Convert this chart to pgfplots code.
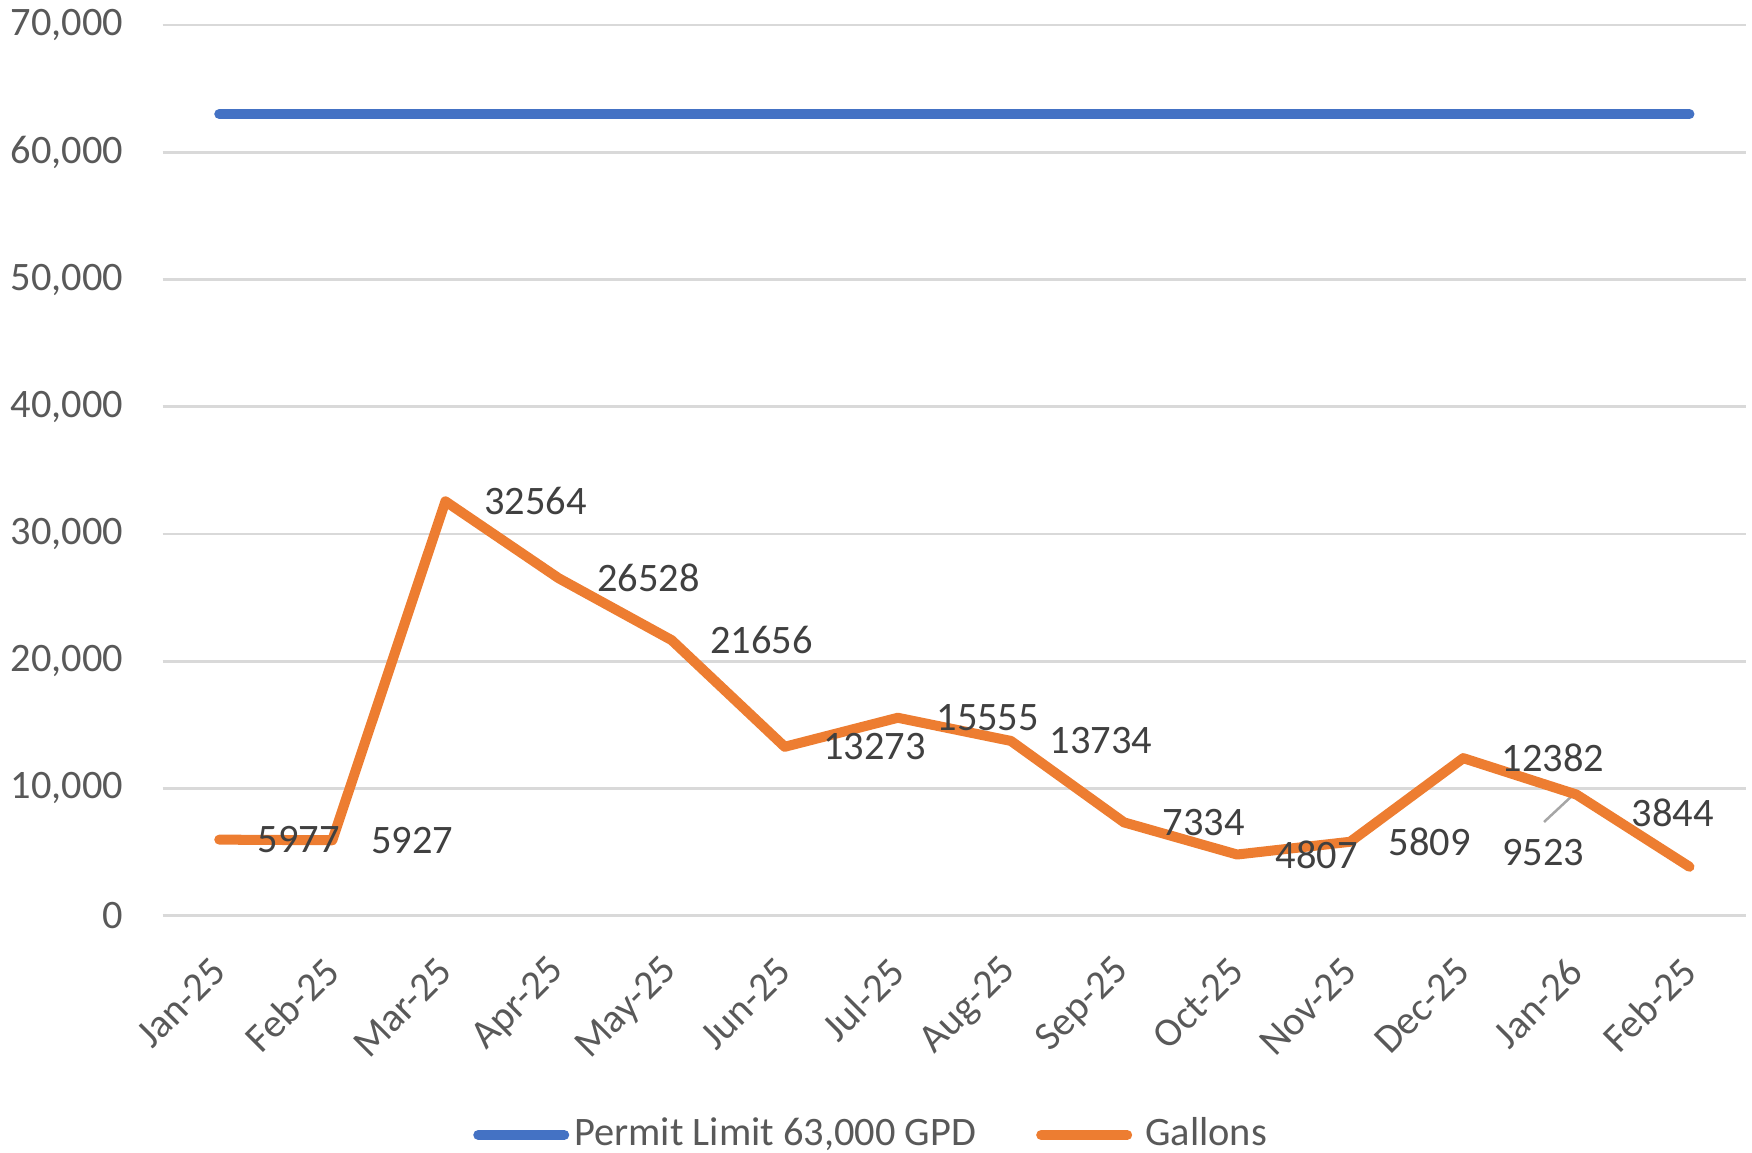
\documentclass[border=0pt]{standalone}
\usepackage{fontspec}
\setmainfont{Carlito}
\usepackage{pgfplots}
\pgfplotsset{compat=1.18}
\definecolor{blueL}{HTML}{4472C4}
\definecolor{orangeL}{HTML}{ED7D31}
\definecolor{gridc}{HTML}{D9D9D9}
\definecolor{tickc}{HTML}{595959}
\definecolor{labc}{HTML}{404040}
\definecolor{leadc}{HTML}{A6A6A6}
\begin{document}
\fontsize{11.5}{13.8}\selectfont
\begin{tikzpicture}
\begin{axis}[
  at={(0,0)}, anchor=south west, scale only axis,
  width=158.33mm, height=89.07mm,
  xmin=-0.5, xmax=13.5, ymin=0, ymax=70000,
  axis line style={draw=none},
  major tick length=0pt,
  ymajorgrids, grid style={gridc, line width=0.75pt},
  ytick={0,10000,20000,30000,40000,50000,60000,70000},
  xtick={0,...,13},
  xticklabels={Jan-25,Feb-25,Mar-25,Apr-25,May-25,Jun-25,Jul-25,Aug-25,Sep-25,Oct-25,Nov-25,Dec-25,Jan-26,Feb-25},
  scaled y ticks=false,
  /pgf/number format/.cd, 1000 sep={,}, assume math mode=true, /pgfplots/.cd,
  yticklabel style={text=tickc, inner sep=0pt, anchor=east, xshift=-3.87mm},
  xticklabel style={text=tickc, inner sep=0pt, rotate=45, anchor=east},
  xticklabel shift=4.9mm,
  legend columns=2,
  legend style={at={(0.1957,-0.2462)}, anchor=west, draw=none, fill=none, inner sep=0pt,
    text=tickc, nodes={inner xsep=0.5mm, inner ysep=1mm},
    /tikz/every even column/.append style={column sep=5.5mm}},
  legend image code/.code={\draw[#1, line cap=round] (0mm,0mm) -- (8.6mm,0mm);},
]
\addplot[blueL, line width=2.85pt, line cap=round, mark=none] coordinates {
  (0,63000) (1,63000) (2,63000) (3,63000) (4,63000) (5,63000) (6,63000)
  (7,63000) (8,63000) (9,63000) (10,63000) (11,63000) (12,63000) (13,63000)};
\addlegendentry{Permit Limit 63,000 GPD}
\draw[leadc, line width=0.25mm] (axis cs:11.714,7364) -- (axis cs:11.97,9486);
\addplot[orangeL, line width=2.85pt, line cap=round, line join=round, mark=none] coordinates {
  (0,5977) (1,5927) (2,32564) (3,26528) (4,21656) (5,13273) (6,15555)
  (7,13734) (8,7334) (9,4807) (10,5809) (11,12382) (12,9523) (13,3844)};
\addlegendentry{\hspace{0.8mm}Gallons}
\addplot[draw=none, mark=none, forget plot, point meta=y,
  nodes near coords={\pgfmathprintnumber[fixed,precision=0,1000 sep={}]{\pgfplotspointmeta}},
  nodes near coords style={anchor=west, xshift=3.8mm, inner sep=0pt, text=labc}] coordinates {
  (0,5977) (1,5927) (2,32564) (3,26528) (4,21656) (5,13273) (6,15555)
  (7,13734) (8,7334) (9,4807) (10,5809) (11,12382)};
\addplot[draw=none, mark=none, forget plot, point meta=y,
  nodes near coords={\pgfmathprintnumber[fixed,precision=0,1000 sep={}]{\pgfplotspointmeta}},
  nodes near coords style={anchor=center, xshift=-3.3mm, yshift=-5.84mm, inner sep=0pt, text=labc}] coordinates {
  (12,9523)};
\addplot[draw=none, mark=none, forget plot, point meta=y,
  nodes near coords={\pgfmathprintnumber[fixed,precision=0,1000 sep={}]{\pgfplotspointmeta}},
  nodes near coords style={anchor=center, xshift=-1.65mm, yshift=5.38mm, inner sep=0pt, text=labc}] coordinates {
  (13,3844)};
\end{axis}
\pgfresetboundingbox
\useasboundingbox (-16.27mm,-23.73mm) rectangle (158.93mm,91.57mm);
\end{tikzpicture}
\end{document}
